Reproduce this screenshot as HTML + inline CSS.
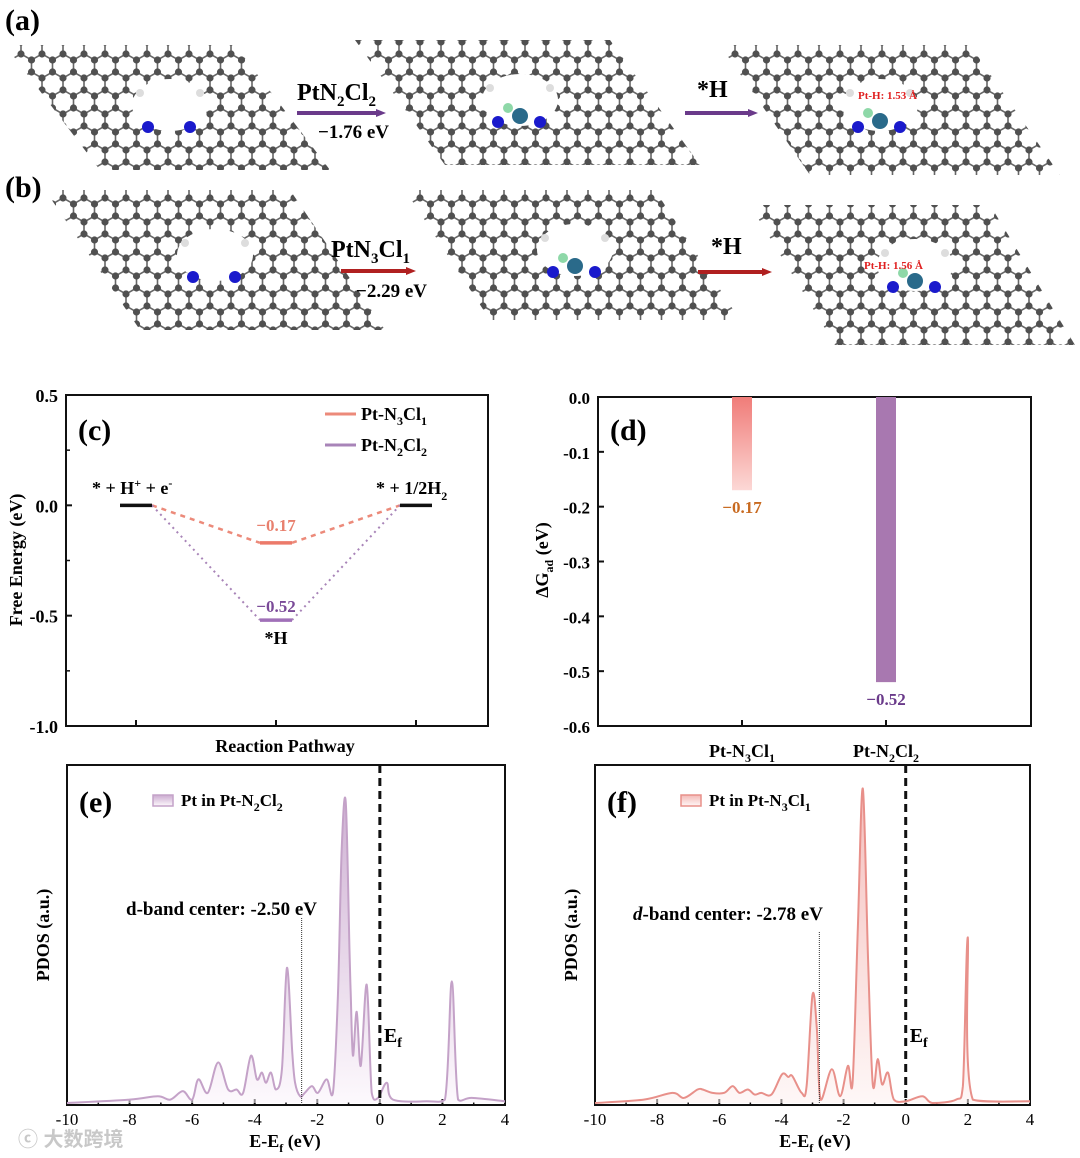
<!DOCTYPE html>
<html><head><meta charset="utf-8">
<style>
body{margin:0;background:#fff;}
svg{display:block;font-family:"Liberation Serif",serif;font-weight:bold;}
</style></head>
<body>
<svg id="fig" width="1080" height="1158" viewBox="0 0 1080 1158" xmlns="http://www.w3.org/2000/svg">
<defs>
<pattern id="hex" width="21" height="36" patternUnits="userSpaceOnUse">
<path d="M0,6 L10.5,0 L21,6 L21,18 L10.5,24 L0,18 Z M10.5,24 L10.5,36" fill="none" stroke="#666" stroke-width="1.6"/>
<g fill="#505050"><circle cx="10.5" cy="0" r="3.6"/><circle cx="21" cy="6" r="3.6"/><circle cx="0" cy="6" r="3.6"/><circle cx="21" cy="18" r="3.6"/><circle cx="0" cy="18" r="3.6"/><circle cx="10.5" cy="24" r="3.6"/><circle cx="10.5" cy="36" r="3.6"/></g>
</pattern>
<linearGradient id="gE" x1="0" y1="0" x2="0" y2="1"><stop offset="0" stop-color="#a872b0"/><stop offset="1" stop-color="#fbf4fb"/></linearGradient>
<linearGradient id="gF" x1="0" y1="0" x2="0" y2="1"><stop offset="0" stop-color="#ec8a86"/><stop offset="1" stop-color="#fdf1f0"/></linearGradient>
<linearGradient id="gBar" x1="0" y1="0" x2="0" y2="1"><stop offset="0" stop-color="#f07c78"/><stop offset="1" stop-color="#fcd8d6"/></linearGradient>
<marker id="arP" markerUnits="userSpaceOnUse" markerWidth="10" markerHeight="10" refX="2" refY="5" orient="auto"><path d="M0,1 L10,5 L0,9 Z" fill="#6a3a8a"/></marker>
<marker id="arR" markerUnits="userSpaceOnUse" markerWidth="10" markerHeight="10" refX="2" refY="5" orient="auto"><path d="M0,1 L10,5 L0,9 Z" fill="#b02020"/></marker>
</defs>

<g>
<text x="5" y="30" font-size="30">(a)</text>
<text x="5" y="197" font-size="30">(b)</text>
<g id="sheets"></g>
<line x1="297" y1="113" x2="378" y2="113" stroke="#6a3a8a" stroke-width="4" marker-end="url(#arP)"/>
<text x="297" y="100" font-size="24">PtN<tspan font-size="15" dy="6">2</tspan><tspan dy="-6">Cl</tspan><tspan font-size="15" dy="6">2</tspan></text>
<text x="318" y="138" font-size="19">−1.76 eV</text>
<line x1="685" y1="113" x2="750" y2="113" stroke="#6a3a8a" stroke-width="4" marker-end="url(#arP)"/>
<text x="697" y="97" font-size="24">*H</text>
<line x1="341" y1="271" x2="408" y2="271" stroke="#b02020" stroke-width="4" marker-end="url(#arR)"/>
<text x="331" y="257" font-size="24">PtN<tspan font-size="15" dy="6">3</tspan><tspan dy="-6">Cl</tspan><tspan font-size="15" dy="6">1</tspan></text>
<text x="356" y="297" font-size="19">−2.29 eV</text>
<line x1="698" y1="272" x2="764" y2="272" stroke="#b02020" stroke-width="4" marker-end="url(#arR)"/>
<text x="711" y="254" font-size="24">*H</text>
<text x="858" y="99" font-size="11" fill="#e02020">Pt-H: 1.53 Å</text>
<text x="864" y="269" font-size="11" fill="#e02020">Pt-H: 1.56 Å</text>
</g>

<g id="pc"></g>
<g id="pd"></g>
<g id="pe"></g>
<g id="pf"></g>
<text x="18" y="1146" font-size="20" fill="#c8c8c8" font-family="'Liberation Sans','Noto Sans CJK SC',sans-serif">ⓒ 大数跨境</text>
</svg>
<script>
const NS="http://www.w3.org/2000/svg";
function mk(parent,tag,attrs,text){const e=document.createElementNS(NS,tag);for(const k in attrs)e.setAttribute(k,attrs[k]);if(text!==undefined)e.textContent=text;parent.appendChild(e);return e;}

const sheetsG=document.getElementById('sheets');
const sheets=[[5,45,235,330,170,[170,105]],[355,40,610,700,165,[520,100]],[720,45,970,1060,175,[880,105]],
[45,190,290,385,330,[215,255]],[405,190,655,740,320,[575,250]],[750,205,990,1075,345,[915,265]]];
sheets.forEach((s,i)=>{
  const [x0,y0,x1,x2,y2,h]=s;const dx=x2-x1;
  const g=mk(sheetsG,'g',{});
  
  
  mk(g,'path',{d:`M${x0},${y0} L${x1},${y0} L${x2},${y2} L${x0+dx},${y2} Z`,fill:'url(#hex)'});
  mk(g,'ellipse',{cx:h[0],cy:h[1],rx:38,ry:26,fill:'#fff'});
  const col=i%3===0?null:'#2a6a8a';
  mk(g,'circle',{cx:h[0]-22,cy:h[1]+22,r:6,fill:'#1a1acc'});
  mk(g,'circle',{cx:h[0]+20,cy:h[1]+22,r:6,fill:'#1a1acc'});
  mk(g,'circle',{cx:h[0]-30,cy:h[1]-12,r:4,fill:'#ddd'});
  mk(g,'circle',{cx:h[0]+30,cy:h[1]-12,r:4,fill:'#ddd'});
  if(col){mk(g,'circle',{cx:h[0]-12,cy:h[1]+8,r:5,fill:'#8ed8a8'});mk(g,'circle',{cx:h[0],cy:h[1]+16,r:8,fill:col});}
});

const cY=[0.5,0.0,-0.5,-1.0];
const cLabels=["0.5","0.0","-0.5","-1.0"];
const cLevelsN3=[0,-0.17,0];
const cLevelsN2=[0,-0.52,0];
const cStepX=[136,276,416];
(function(){
  const g=document.getElementById('pc');
  const x0=66,x1=488,yt=395,yb=726;
  const y=v=>yt+(0.5-v)*(yb-yt)/1.5;
  mk(g,'rect',{x:x0,y:yt,width:x1-x0,height:yb-yt,fill:'none',stroke:'#111','stroke-width':2});
  cY.forEach((v,i)=>{mk(g,'line',{x1:x0,x2:x0+6,y1:y(v),y2:y(v),stroke:'#111','stroke-width':2});
    const t=mk(g,'text',{x:x0-8,y:y(v)+7,'font-size':18,'text-anchor':'end'},cLabels[i]);
    });
  [0.25,-0.25,-0.75].forEach(v=>mk(g,'line',{x1:x0,x2:x0+4,y1:y(v),y2:y(v),stroke:'#111','stroke-width':1.5}));
  cStepX.forEach(x=>mk(g,'line',{x1:x,x2:x,y1:yb,y2:yb-6,stroke:'#111','stroke-width':2}));
  const hw=16;
  [[cLevelsN3,'#ec8a7a','5,5',2.5],[cLevelsN2,'#a884b8','2,4',2]].forEach(([lv,c,da,w])=>{
    for(let i=0;i<2;i++){const l=mk(g,'line',{x1:cStepX[i]+hw,y1:y(lv[i]),x2:cStepX[i+1]-hw,y2:y(lv[i+1]),stroke:c,'stroke-width':w,'stroke-dasharray':da});
      }
  });
  cLevelsN3.forEach((v,i)=>{const l=mk(g,'line',{x1:cStepX[i]-hw,x2:cStepX[i]+hw,y1:y(v),y2:y(v),stroke:i===1?'#ec7a6a':'#111','stroke-width':3.5});
    });
  const l2=mk(g,'line',{x1:cStepX[1]-hw,x2:cStepX[1]+hw,y1:y(cLevelsN2[1]),y2:y(cLevelsN2[1]),stroke:'#a070b8','stroke-width':3.5});
  
  mk(g,'text',{x:cStepX[1],y:y(cLevelsN3[1])-12,'font-size':17,fill:'#e8806e','text-anchor':'middle'},'−'+Math.abs(cLevelsN3[1]).toFixed(2));
  mk(g,'text',{x:cStepX[1],y:y(cLevelsN2[1])-8,'font-size':17,fill:'#7a4a98','text-anchor':'middle'},'−'+Math.abs(cLevelsN2[1]).toFixed(2));
  mk(g,'text',{x:cStepX[1],y:y(cLevelsN2[1])+24,'font-size':18,'text-anchor':'middle'},'*H');
  const t1=mk(g,'text',{x:92,y:494,'font-size':18});t1.innerHTML='* + H<tspan font-size="12" dy="-7">+</tspan><tspan dy="7"> + e</tspan><tspan font-size="12" dy="-7">-</tspan>';
  const t2=mk(g,'text',{x:376,y:494,'font-size':18});t2.innerHTML='* + 1/2H<tspan font-size="12" dy="6">2</tspan>';
  mk(g,'text',{x:78,y:440,'font-size':30},'(c)');
  mk(g,'line',{x1:325,x2:356,y1:414,y2:414,stroke:'#ec8a7a','stroke-width':3});
  mk(g,'line',{x1:325,x2:356,y1:445,y2:445,stroke:'#a884b8','stroke-width':3});
  const L1=mk(g,'text',{x:361,y:420,'font-size':18});L1.innerHTML='Pt-N<tspan font-size="12" dy="5">3</tspan><tspan dy="-5">Cl</tspan><tspan font-size="12" dy="5">1</tspan>';
  
  const L2=mk(g,'text',{x:361,y:451,'font-size':18});L2.innerHTML='Pt-N<tspan font-size="12" dy="5">2</tspan><tspan dy="-5">Cl</tspan><tspan font-size="12" dy="5">2</tspan>';
  
  const xt=mk(g,'text',{x:285,y:752,'font-size':18,'text-anchor':'middle'},'Reaction Pathway');
  
  const yt2=mk(g,'text',{x:0,y:0,'font-size':18,'text-anchor':'middle',transform:'translate(22,560) rotate(-90)'},'Free Energy (eV)');
  
})();

const dCats=["N3","N2"];
const dVals=[-0.17,-0.52];
const dTicks=[0,-0.1,-0.2,-0.3,-0.4,-0.5,-0.6];
(function(){
  const g=document.getElementById('pd');
  const x0=598,x1=1031,yt=397,yb=726;
  const y=v=>yt+(-v)*(yb-yt)/0.6;
  const cx=[742,886];
  mk(g,'rect',{x:x0,y:yt,width:x1-x0,height:yb-yt,fill:'none',stroke:'#111','stroke-width':2});
  dTicks.forEach(v=>{mk(g,'line',{x1:x0,x2:x0+6,y1:y(v),y2:y(v),stroke:'#111','stroke-width':2});
    const t=mk(g,'text',{x:x0-8,y:y(v)+7,'font-size':17,'text-anchor':'end'},v.toFixed(1));
    });
  cx.forEach(x=>mk(g,'line',{x1:x,x2:x,y1:yb,y2:yb-6,stroke:'#111','stroke-width':2}));
  const fills=['url(#gBar)','#a878b0'];const lc=['#c86a20','#6a3a8a'];
  dVals.forEach((v,i)=>{const b=mk(g,'rect',{x:cx[i]-10,y:yt,width:20,height:y(v)-yt,fill:fills[i]});
    
    mk(g,'text',{x:cx[i],y:y(v)+23,'font-size':17,fill:lc[i],'text-anchor':'middle'},'−'+Math.abs(v).toFixed(2));});
  mk(g,'text',{x:610,y:440,'font-size':30},'(d)');
  const a=mk(g,'text',{x:cx[0],y:757,'font-size':18,'text-anchor':'middle'});a.innerHTML='Pt-N<tspan font-size="12" dy="5">3</tspan><tspan dy="-5">Cl</tspan><tspan font-size="12" dy="5">1</tspan>';
  const b=mk(g,'text',{x:cx[1],y:757,'font-size':18,'text-anchor':'middle'});b.innerHTML='Pt-N<tspan font-size="12" dy="5">2</tspan><tspan dy="-5">Cl</tspan><tspan font-size="12" dy="5">2</tspan>';
  const yt2=mk(g,'text',{x:0,y:0,'font-size':18,'text-anchor':'middle',transform:'translate(548,560) rotate(-90)'});
  yt2.innerHTML='ΔG<tspan font-size="12" dy="5">ad</tspan><tspan dy="-5"> (eV)</tspan>';
  
})();

const eE=[-10,-8,-7.1,-6.7,-6.3,-6.0,-5.8,-5.5,-5.17,-4.85,-4.58,-4.37,-4.12,-3.93,-3.77,-3.64,-3.48,-3.32,-3.13,-2.97,-2.8,-2.71,-2.55,-2.4,-2.17,-1.98,-1.7,-1.5,-1.34,-1.22,-1.09,-0.97,-0.93,-0.86,-0.74,-0.61,-0.42,-0.26,-0.06,0.22,0.42,1.5,2.08,2.3,2.5,2.94,4];
const eV=[0,1,2,1,3.5,1,7,3,12,4,4,3,14,7,9,6,9,4,10,40,15,6,2,3,5,3,7,3,32,75,89,45,32,14,27,11,35,3,1.5,6,1,0.5,1,36,1,1.5,0.5];
const fE=[-10,-8.43,-7.51,-7.14,-6.7,-6.54,-6.22,-5.84,-5.57,-5.35,-5.08,-4.86,-4.65,-4.32,-3.98,-3.78,-3.65,-3.35,-3.19,-3.0,-2.86,-2.74,-2.38,-2.11,-1.86,-1.71,-1.54,-1.38,-1.21,-1.06,-0.9,-0.76,-0.57,-0.38,0,0.54,0.86,1.62,1.84,2.0,2.16,4];
const fV=[0,1,3,1.5,4,4,3,3,5,3,4,2.5,3,2.5,8.5,7.7,8,3,5,32,22,1,10,2,11,6,52,93,42,5.5,13,5.5,9,1,0.5,2,0,1,5,49,1,0.5];
const xTicks=[-10,-8,-6,-4,-2,0,2,4];

function pdos(id,E,V,x0,x1,stroke,grad,dband,letter,legSub,dbandLbl,italic,titleX){
  const g=document.getElementById(id);
  const yt=765,yb=1105,base=1103;
  const x=e=>x0+(e+10)*(x1-x0)/14;
  const y=v=>base-v*3.38;
  mk(g,'rect',{x:x0,y:yt,width:x1-x0,height:yb-yt,fill:'none',stroke:'#111','stroke-width':2});
  xTicks.forEach(t=>{mk(g,'line',{x1:x(t),x2:x(t),y1:yb,y2:yb-6,stroke:'#111','stroke-width':2});
    if(t<4) mk(g,'line',{x1:x(t+1),x2:x(t+1),y1:yb,y2:yb-3,stroke:'#111','stroke-width':1.5});
    const l=mk(g,'text',{x:x(t),y:yb+20,'font-size':17,'text-anchor':'middle','font-weight':'normal'},String(t));
    });
  const P=E.map((e,i)=>[x(e),y(V[i])]);
  let d=`M${P[0][0]},${P[0][1]}`;
  for(let i=0;i<P.length-1;i++){const p0=P[Math.max(0,i-1)],p1=P[i],p2=P[i+1],p3=P[Math.min(P.length-1,i+2)];
    let c1y=p1[1]+(p2[1]-p0[1])/6,c2y=p2[1]-(p3[1]-p1[1])/6;c1y=Math.min(c1y,base);c2y=Math.min(c2y,base);
    d+=` C${p1[0]+(p2[0]-p0[0])/6},${c1y} ${p2[0]-(p3[0]-p1[0])/6},${c2y} ${p2[0]},${p2[1]}`;}
  const area=mk(g,'path',{d:d+` L${P[P.length-1][0]},${base} L${P[0][0]},${base} Z`,fill:grad,'fill-opacity':0.55});
  
  const line=mk(g,'path',{d:d,fill:'none',stroke:stroke,'stroke-width':2});
  
  mk(g,'line',{x1:x(0),x2:x(0),y1:yt,y2:yb,stroke:'#111','stroke-width':3,'stroke-dasharray':'8,5'});
  mk(g,'line',{x1:x(dband),x2:x(dband),y1:dband<-2.6?932:918,y2:yb,stroke:'#333','stroke-width':1,'stroke-dasharray':'1,1'});
  const ef=mk(g,'text',{x:x(0)+4,y:1042,'font-size':20});ef.innerHTML='E<tspan font-size="14" dy="5">f</tspan>';
  mk(g,'text',{x:x0+12,y:812,'font-size':30},letter);
  mk(g,'rect',{x:x0+86,y:795,width:20,height:11,fill:grad,stroke:stroke,'stroke-width':1.5,'fill-opacity':0.6});
  const lg=mk(g,'text',{x:x0+114,y:806,'font-size':17});lg.innerHTML=legSub;
  
  const db=mk(g,'text',{x:dbandLbl[0],y:dbandLbl[1],'font-size':19});db.innerHTML=italic?'<tspan font-style="italic">d</tspan>-band center: -'+Math.abs(dband).toFixed(2)+' eV':'d-band center: -'+Math.abs(dband).toFixed(2)+' eV';
  const yt2=mk(g,'text',{x:0,y:0,'font-size':18,'text-anchor':'middle',transform:`translate(${x0-18},935) rotate(-90)`},'PDOS (a.u.)');
  
  const xt=mk(g,'text',{x:titleX,y:1147,'font-size':18,'text-anchor':'middle'});xt.innerHTML='E-E<tspan font-size="12" dy="5">f</tspan><tspan dy="-5"> (eV)</tspan>';
  
}
pdos('pe',eE,eV,67,505,'#c4a2c8','url(#gE)',-2.5,'(e)','Pt in Pt-N<tspan font-size="12" dy="5">2</tspan><tspan dy="-5">Cl</tspan><tspan font-size="12" dy="5">2</tspan>',[126,915],false,285);
pdos('pf',fE,fV,595,1030,'#e8908a','url(#gF)',-2.78,'(f)','Pt in Pt-N<tspan font-size="12" dy="5">3</tspan><tspan dy="-5">Cl</tspan><tspan font-size="12" dy="5">1</tspan>',[633,920],true,815);
</script>
</body></html>
